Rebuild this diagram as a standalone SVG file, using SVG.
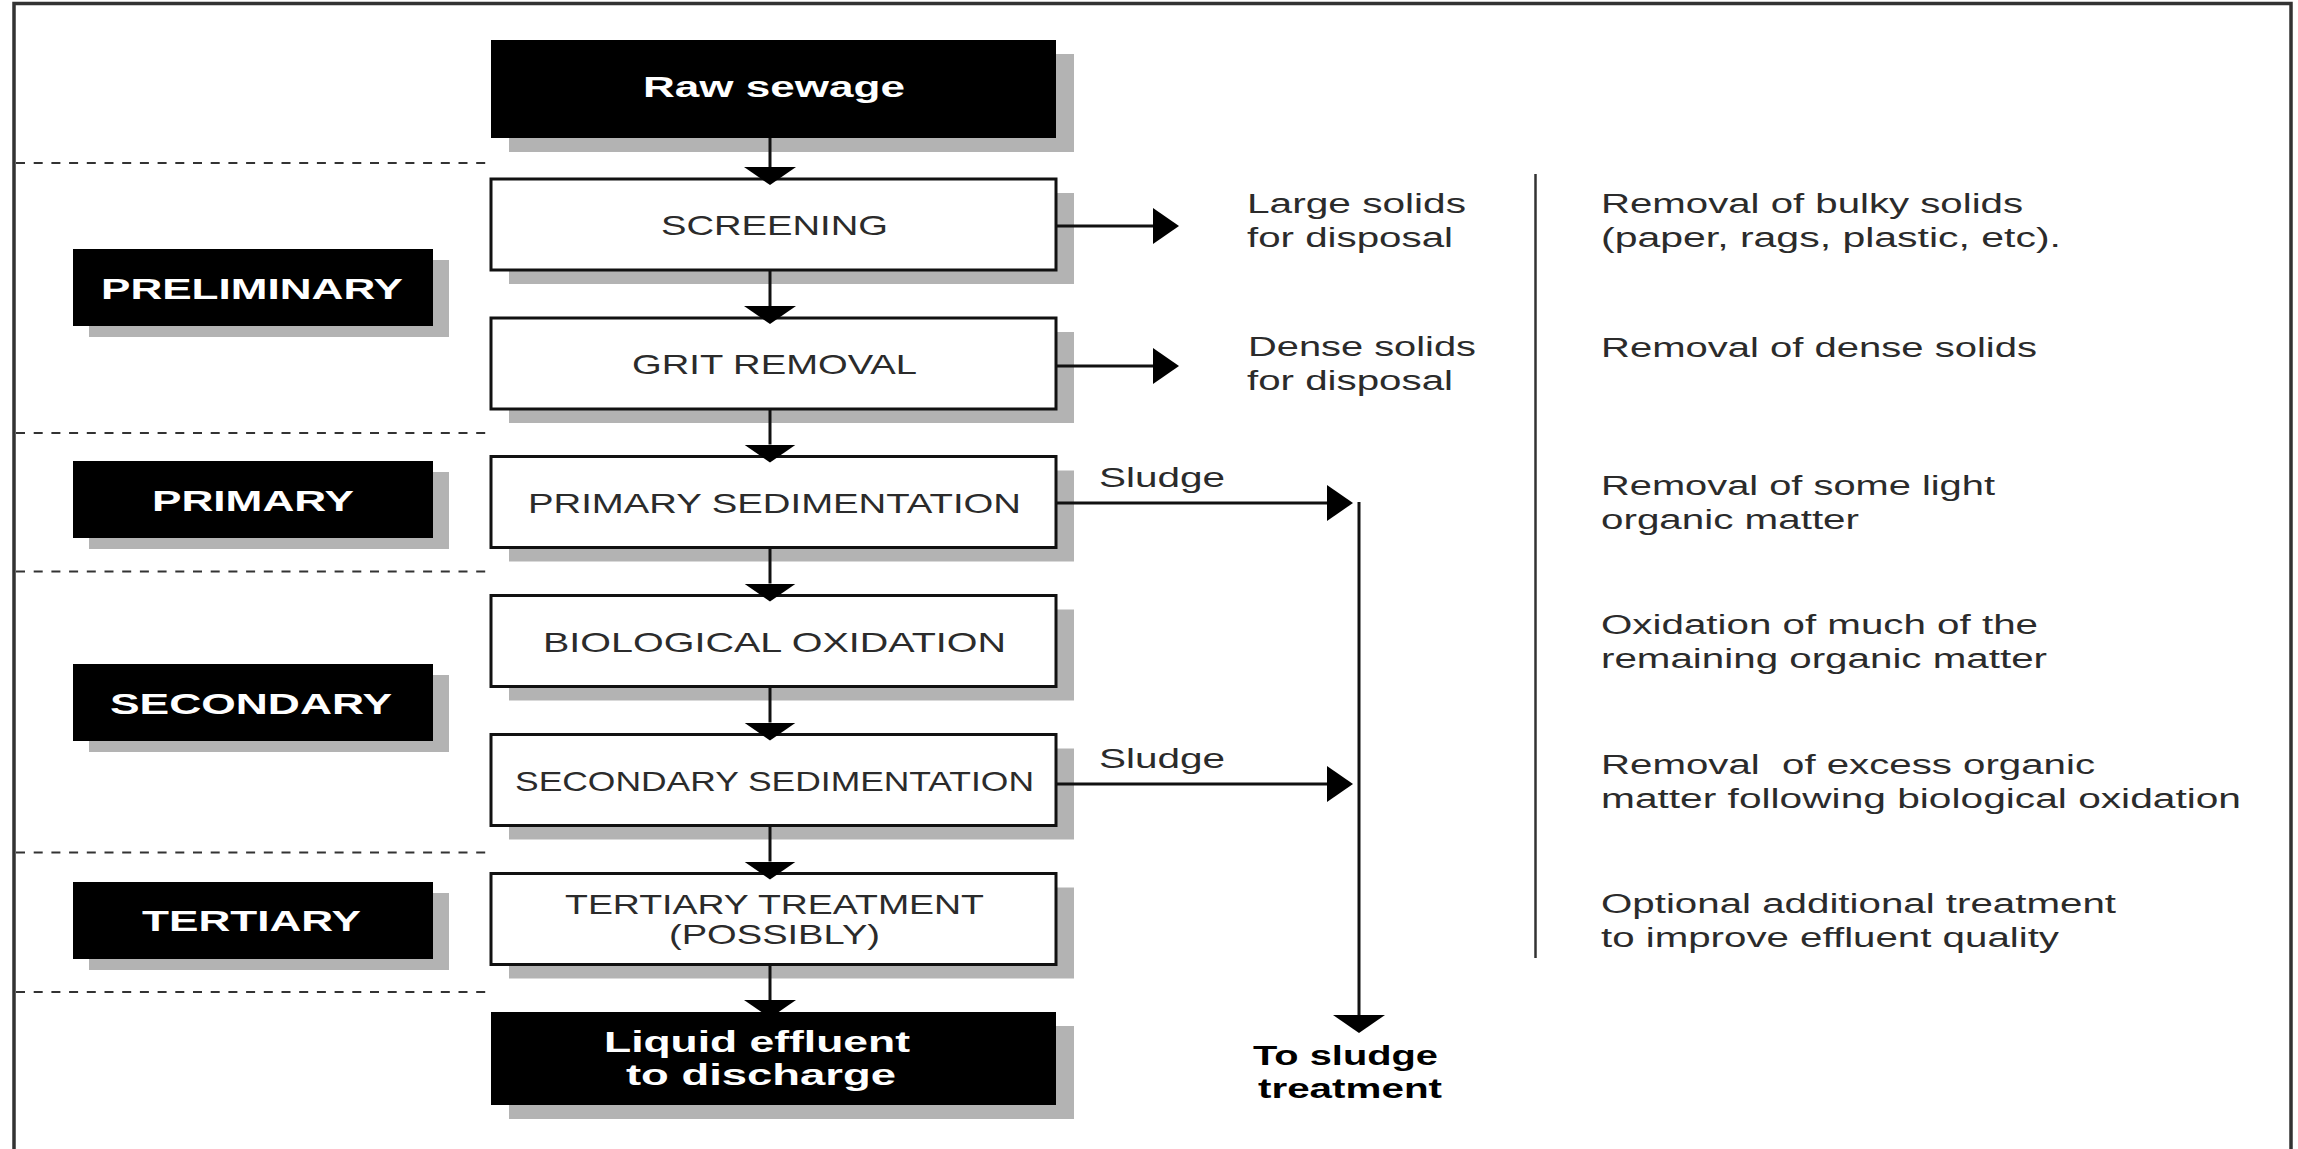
<svg xmlns="http://www.w3.org/2000/svg" width="2298" height="1149" viewBox="0 0 2298 1149">
<style>
.bg{fill:#ffffff}
.frame{fill:none;stroke:#333333;stroke-width:3.5}
.sep{fill:none;stroke:#333333;stroke-width:2;stroke-dasharray:9 8.7}
.shadow{fill:#b3b3b3}
.box{fill:#ffffff;stroke:#111111;stroke-width:3}
.dark{fill:#000000}
.t{font-family:"Liberation Sans",Arial,Helvetica,sans-serif;font-size:28px;fill:#2b2b2b}
.r{font-family:"Liberation Sans",Arial,Helvetica,sans-serif;font-size:27px;fill:#2b2b2b}
.w{font-family:"Liberation Sans",Arial,Helvetica,sans-serif;font-weight:bold;font-size:29px;fill:#ffffff}
.wl{font-family:"Liberation Sans",Arial,Helvetica,sans-serif;font-weight:bold;font-size:30px;fill:#ffffff}
.k{font-family:"Liberation Sans",Arial,Helvetica,sans-serif;font-weight:bold;font-size:27px;fill:#000000}
.ln{fill:none;stroke:#111111;stroke-width:3}
.div{fill:none;stroke:#333333;stroke-width:2.5}
</style>
<defs>
<marker id="ahFlat" markerUnits="userSpaceOnUse" viewBox="0 0 18 52" markerWidth="18" markerHeight="52" refX="0" refY="26" orient="auto">
<path d="M0,0 L18,26 L0,52 Z" fill="#000000"/>
</marker>
<marker id="ahLong" markerUnits="userSpaceOnUse" viewBox="0 0 26 36" markerWidth="26" markerHeight="36" refX="0" refY="18" orient="auto">
<path d="M0,0 L26,18 L0,36 Z" fill="#000000"/>
</marker>
</defs>
<rect class="bg" x="0" y="0" width="2298" height="1149"/>
<rect class="frame" x="14" y="3.5" width="2277" height="1200"/>

<g id="stage-separators">
<line class="sep" x1="16" y1="163" x2="490" y2="163"/>
<line class="sep" x1="16" y1="433" x2="492" y2="433"/>
<line class="sep" x1="16" y1="571.5" x2="490" y2="571.5"/>
<line class="sep" x1="16" y1="852.5" x2="490" y2="852.5"/>
<line class="sep" x1="16" y1="992" x2="490" y2="992"/>
</g>

<g id="label-preliminary">
<rect class="shadow" x="89" y="260" width="360" height="77"/>
<rect class="dark" x="73" y="249" width="360" height="77"/>
<text class="wl" x="101" y="299" textLength="302" lengthAdjust="spacingAndGlyphs">PRELIMINARY</text>
</g>
<g id="label-primary">
<rect class="shadow" x="89" y="472" width="360" height="77"/>
<rect class="dark" x="73" y="461" width="360" height="77"/>
<text class="wl" x="152" y="511" textLength="202" lengthAdjust="spacingAndGlyphs">PRIMARY</text>
</g>
<g id="label-secondary">
<rect class="shadow" x="89" y="675" width="360" height="77"/>
<rect class="dark" x="73" y="664" width="360" height="77"/>
<text class="wl" x="110" y="714" textLength="282" lengthAdjust="spacingAndGlyphs">SECONDARY</text>
</g>
<g id="label-tertiary">
<rect class="shadow" x="89" y="893" width="360" height="77"/>
<rect class="dark" x="73" y="882" width="360" height="77"/>
<text class="wl" x="142" y="931" textLength="219" lengthAdjust="spacingAndGlyphs">TERTIARY</text>
</g>

<g id="raw-sewage">
<rect class="shadow" x="509" y="54" width="565" height="98"/>
<rect class="dark" x="491" y="40" width="565" height="98"/>
<text class="w" x="643" y="97" textLength="262" lengthAdjust="spacingAndGlyphs">Raw sewage</text>
</g>
<g id="screening">
<rect class="shadow" x="509" y="193" width="565" height="91"/>
<rect class="box" x="491" y="179" width="565" height="91"/>
<text class="t" x="661" y="235" textLength="227" lengthAdjust="spacingAndGlyphs">SCREENING</text>
</g>
<g id="grit-removal">
<rect class="shadow" x="509" y="332" width="565" height="91"/>
<rect class="box" x="491" y="318" width="565" height="91"/>
<text class="t" x="632" y="374" textLength="285" lengthAdjust="spacingAndGlyphs">GRIT REMOVAL</text>
</g>
<g id="primary-sedimentation">
<rect class="shadow" x="509" y="470.5" width="565" height="91"/>
<rect class="box" x="491" y="456.5" width="565" height="91"/>
<text class="t" x="528" y="512.5" textLength="493" lengthAdjust="spacingAndGlyphs">PRIMARY SEDIMENTATION</text>
</g>
<g id="biological-oxidation">
<rect class="shadow" x="509" y="609.5" width="565" height="91"/>
<rect class="box" x="491" y="595.5" width="565" height="91"/>
<text class="t" x="543" y="651.5" textLength="463" lengthAdjust="spacingAndGlyphs">BIOLOGICAL OXIDATION</text>
</g>
<g id="secondary-sedimentation">
<rect class="shadow" x="509" y="748.5" width="565" height="91"/>
<rect class="box" x="491" y="734.5" width="565" height="91"/>
<text class="t" x="515" y="790.5" textLength="519" lengthAdjust="spacingAndGlyphs">SECONDARY SEDIMENTATION</text>
</g>
<g id="tertiary-treatment">
<rect class="shadow" x="509" y="887.5" width="565" height="91"/>
<rect class="box" x="491" y="873.5" width="565" height="91"/>
<text class="t" x="565" y="913.5" textLength="419" lengthAdjust="spacingAndGlyphs">TERTIARY TREATMENT</text>
<text class="t" x="669" y="944" textLength="211" lengthAdjust="spacingAndGlyphs">(POSSIBLY)</text>
</g>
<g id="liquid-effluent">
<rect class="shadow" x="509" y="1026" width="565" height="93"/>
<rect class="dark" x="491" y="1012" width="565" height="93"/>
<text class="w" x="604" y="1052" textLength="306" lengthAdjust="spacingAndGlyphs">Liquid effluent</text>
<text class="w" x="626" y="1085" textLength="270" lengthAdjust="spacingAndGlyphs">to discharge</text>
</g>

<g id="connectors">
<line class="ln" x1="770" y1="138" x2="770" y2="167" marker-end="url(#ahFlat)"/>
<line class="ln" x1="770" y1="270" x2="770" y2="306" marker-end="url(#ahFlat)"/>
<line class="ln" x1="770" y1="409" x2="770" y2="444.5" marker-end="url(#ahFlat)"/>
<line class="ln" x1="770" y1="547.5" x2="770" y2="583.5" marker-end="url(#ahFlat)"/>
<line class="ln" x1="770" y1="686.5" x2="770" y2="722.5" marker-end="url(#ahFlat)"/>
<line class="ln" x1="770" y1="825.5" x2="770" y2="861.5" marker-end="url(#ahFlat)"/>
<line class="ln" x1="770" y1="964.5" x2="770" y2="1000" marker-end="url(#ahFlat)"/>
<line class="ln" x1="1056" y1="226" x2="1153" y2="226" marker-end="url(#ahLong)"/>
<line class="ln" x1="1056" y1="366" x2="1153" y2="366" marker-end="url(#ahLong)"/>
<line class="ln" x1="1056" y1="503" x2="1327" y2="503" marker-end="url(#ahLong)"/>
<line class="ln" x1="1056" y1="784" x2="1327" y2="784" marker-end="url(#ahLong)"/>
<line class="ln" x1="1359" y1="502" x2="1359" y2="1015" marker-end="url(#ahFlat)"/>
<text class="r" x="1099" y="487" textLength="126" lengthAdjust="spacingAndGlyphs">Sludge</text>
<text class="r" x="1099" y="768" textLength="126" lengthAdjust="spacingAndGlyphs">Sludge</text>
</g>

<g id="large-solids">
<text class="r" x="1247" y="213" textLength="219" lengthAdjust="spacingAndGlyphs">Large solids</text>
<text class="r" x="1247" y="246.5" textLength="206" lengthAdjust="spacingAndGlyphs">for disposal</text>
</g>
<g id="dense-solids">
<text class="r" x="1248" y="356" textLength="228" lengthAdjust="spacingAndGlyphs">Dense solids</text>
<text class="r" x="1247" y="390" textLength="206" lengthAdjust="spacingAndGlyphs">for disposal</text>
</g>
<g id="to-sludge-treatment">
<text class="k" x="1253" y="1065" textLength="185" lengthAdjust="spacingAndGlyphs">To sludge</text>
<text class="k" x="1258" y="1098" textLength="184" lengthAdjust="spacingAndGlyphs">treatment</text>
</g>

<line class="div" x1="1535.5" y1="174" x2="1535.5" y2="958"/>

<g id="descriptions">
<text class="r" x="1601" y="213" textLength="422" lengthAdjust="spacingAndGlyphs">Removal of bulky solids</text>
<text class="r" x="1601" y="246.5" textLength="460" lengthAdjust="spacingAndGlyphs">(paper, rags, plastic, etc).</text>
<text class="r" x="1601" y="356.5" textLength="436" lengthAdjust="spacingAndGlyphs">Removal of dense solids</text>
<text class="r" x="1601" y="495" textLength="394" lengthAdjust="spacingAndGlyphs">Removal of some light</text>
<text class="r" x="1601" y="528.5" textLength="258" lengthAdjust="spacingAndGlyphs">organic matter</text>
<text class="r" x="1601" y="633.5" textLength="437" lengthAdjust="spacingAndGlyphs">Oxidation of much of the</text>
<text class="r" x="1601" y="667.5" textLength="446" lengthAdjust="spacingAndGlyphs">remaining organic matter</text>
<text class="r" x="1601" y="774" textLength="494" lengthAdjust="spacingAndGlyphs" xml:space="preserve">Removal  of excess organic</text>
<text class="r" x="1601" y="808" textLength="640" lengthAdjust="spacingAndGlyphs">matter following biological oxidation</text>
<text class="r" x="1601" y="913" textLength="515" lengthAdjust="spacingAndGlyphs">Optional additional treatment</text>
<text class="r" x="1601" y="946.5" textLength="458" lengthAdjust="spacingAndGlyphs">to improve effluent quality</text>
</g>
</svg>
